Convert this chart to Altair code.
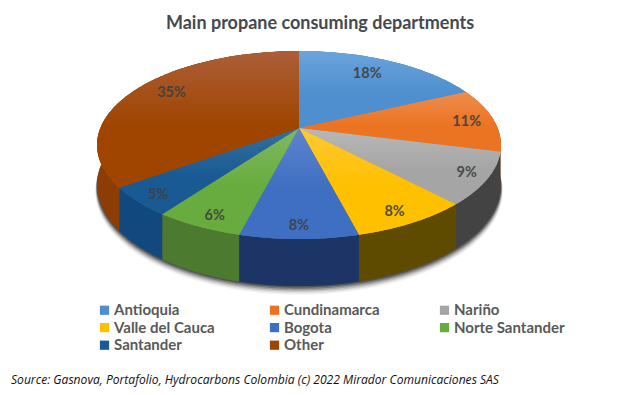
import math
import altair as alt

departments = ["Antioquia", "Cundinamarca", "Nariño", "Valle del Cauca", "Bogota",
               "Norte Santander", "Santander", "Other"]
shares = [18, 11, 9, 8, 8, 6, 5, 35]
base_colors = ["#4F8FCF", "#EB7422", "#A5A5A5", "#FFC000", "#3F6FC2", "#68AC3F", "#1A5A94", "#A04500"]
light_colors = ["#69A4DC", "#EE8D4E", "#B8B8B8", "#FFC832", "#5D84CE", "#80B860", "#33709F", "#AC5E38"]
side_colors = ["#4F8FCF", "#8A4510", "#434343", "#5F4B00", "#1C3566", "#4C7A2E", "#11497F", "#8C3D06"]
label_radius = [0.78, 0.85, 0.90, 0.87, 0.90, 0.90, 0.90, 0.83]

# Perspective tilt of the pie (pixel frame of the view)
CX, CY = 291, 120
A, C, D = 198.6, 90.9, 0.181
DEPTH = 38.6

# small hand adjustments of the percentage labels, in pixels
LABEL_DX = [-6, 2, 0, -1, 0, 5, 2, 10]
LABEL_DY = [-1, 1, 0, 4, 0, 1, 2, -3]


def project(theta, f=1.0, drop=0.0):
    u, v = f * math.sin(theta), f * math.cos(theta)
    w = 1 + D * v
    return [CX + A * u / w, CY - C * v / w + drop / w]


def feature(name, ring):
    ring = ring + [ring[0]]
    return {"type": "Feature", "properties": {"name": name},
            "geometry": {"type": "Polygon", "coordinates": [ring]}}


def angles(a0, a1):
    n = max(2, int((a1 - a0) / 0.02))
    return [a0 + (a1 - a0) * i / n for i in range(n + 1)]


def geo(features, **mark):
    return alt.Chart(alt.Data(values=features)).mark_geoshape(**mark).project(
        type="identity", scale=1, translate=[0, 0])


total = sum(shares)
bounds = []
c = 0
for s in shares:
    bounds.append((c / total * 2 * math.pi, (c + s) / total * 2 * math.pi))
    c += s

layers = []

# soft ground shadow
full = angles(0, 2 * math.pi)
for extra, op in [(6, 0.05), (5, 0.08), (4, 0.12), (3, 0.18), (2, 0.24), (1, 0.3)]:
    ring = [project(t, 1 + extra / 700, DEPTH + extra) for t in full]
    layers.append(geo([feature("shadow", ring)], fill="#000000", opacity=op))

# side walls
for name, (a0, a1), col in zip(departments, bounds, side_colors):
    ts = angles(a0, a1)
    ring = [project(t) for t in ts] + [project(t, 1, DEPTH) for t in reversed(ts)]
    layers.append(geo([feature(name, ring)], fill=col))

# top faces: solid layer carries the legend
tops = []
for name, (a0, a1) in zip(departments, bounds):
    ring = [[CX, CY]] + [project(t) for t in angles(a0, a1)]
    tops.append(feature(name, ring))

legend = alt.Legend(
    title=None, orient="none", legendX=89, legendY=294.5, columns=3, direction="horizontal",
    gridAlign="all", symbolType="square", symbolSize=85, symbolStrokeWidth=0, symbolOpacity=1,
    labelFont="Lato", labelFontSize=15, labelFontWeight="bold", labelColor="#595959",
    labelOffset=2, columnPadding=42, rowPadding=1.6, labelLimit=200,
)
layers.append(geo(tops).encode(
    fill=alt.Fill("properties.name:N", legend=legend,
                  scale=alt.Scale(domain=departments, range=base_colors))
))

# gradient finish on each face
for top, lc, bc in zip(tops, light_colors, base_colors):
    grad = alt.Gradient(gradient="linear", x1=0, y1=0, x2=0, y2=1,
                        stops=[alt.GradientStop(offset=0, color=lc),
                               alt.GradientStop(offset=0.55, color=bc),
                               alt.GradientStop(offset=1, color=bc)])
    layers.append(geo([top], fill=grad))

# percentage labels
rows = []
for name, s, (a0, a1), f, dx, dy in zip(departments, shares, bounds, label_radius, LABEL_DX, LABEL_DY):
    x, y = project((a0 + a1) / 2, f)
    rows.append({"name": name, "label": f"{s}%", "px": x + dx, "py": y + dy})
layers.append(alt.Chart(alt.Data(values=rows)).mark_text(
    font="Lato", fontSize=14.5, fontWeight="bold", color="#404040", opacity=0.9, baseline="middle", align="center"
).encode(x=alt.X("px:Q", scale=None), y=alt.Y("py:Q", scale=None), text="label:N"))

# source line
layers.append(alt.Chart(alt.Data(values=[{"t": "Source:  Gasnova, Portafolio, Hydrocarbons Colombia (c) 2022 Mirador Comunicaciones SAS"}])).mark_text(
    font="Open Sans", fontSize=12.1, fontStyle="italic", color="#111111", align="left", baseline="middle"
).encode(x=alt.value(3), y=alt.value(372), text="t:N"))

chart = alt.layer(*layers).properties(
    width=624, height=379, padding=0,
    autosize=alt.AutoSizeParams(type="none"),
    title=alt.TitleParams("Main propane consuming departments", anchor="middle", font="Lato",
                          fontSize=18, fontWeight="bold", color="#44494F", dy=38, baseline="middle"),
).configure_view(stroke=None)

chart.save("out.html", embed_options={"renderer": "svg", "actions": False})
